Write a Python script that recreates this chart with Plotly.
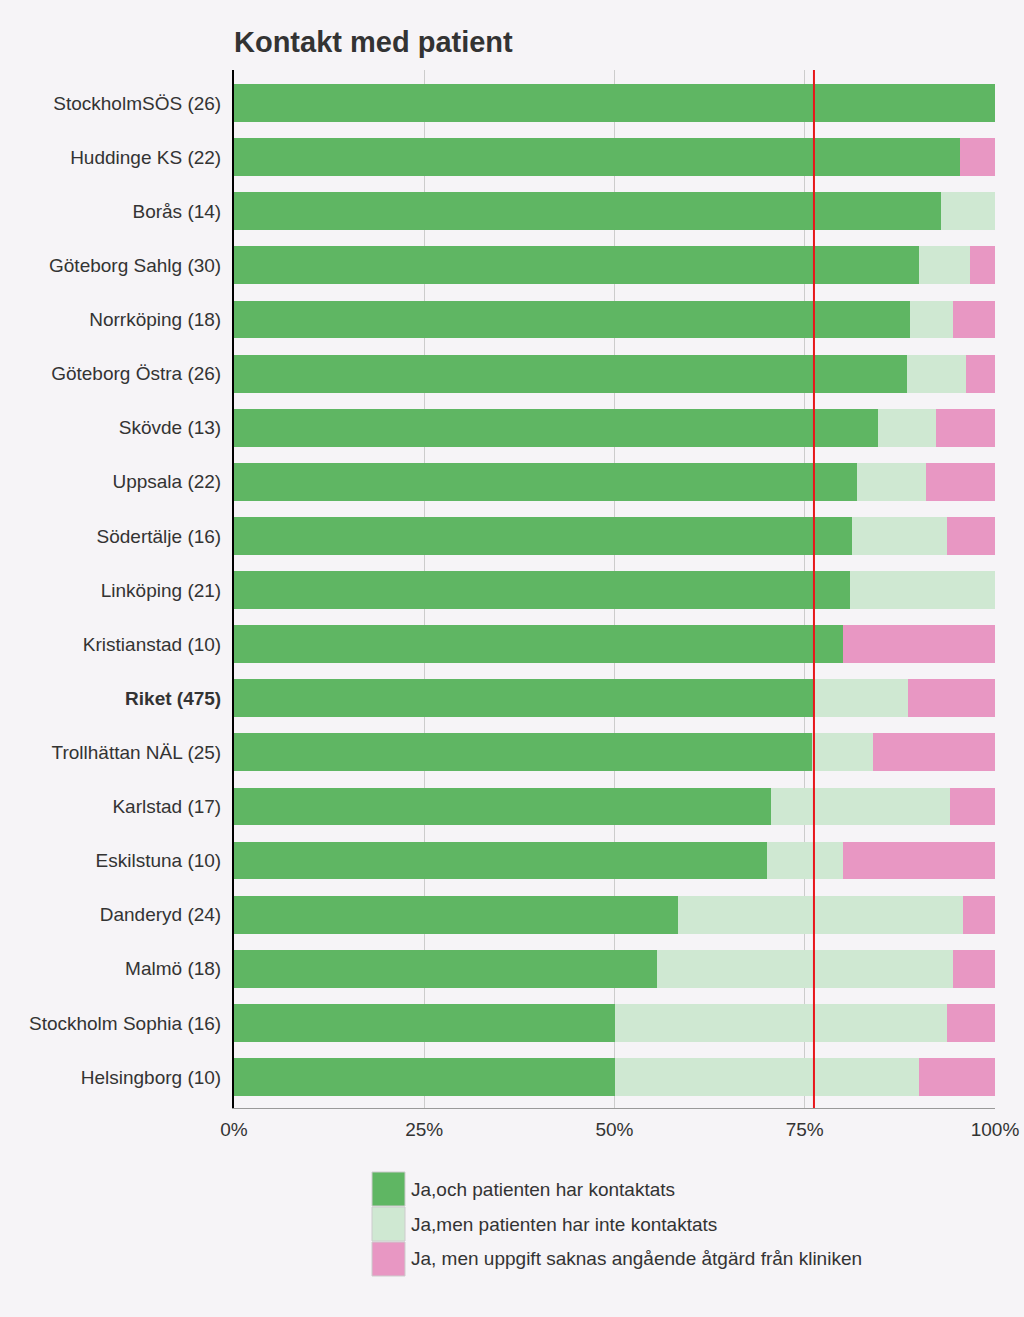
import plotly.graph_objects as go

categories = ["StockholmSÖS (26)", "Huddinge KS (22)", "Borås (14)", "Göteborg Sahlg (30)",
              "Norrköping (18)", "Göteborg Östra (26)", "Skövde (13)", "Uppsala (22)",
              "Södertälje (16)", "Linköping (21)", "Kristianstad (10)", "Riket (475)",
              "Trollhättan NÄL (25)", "Karlstad (17)", "Eskilstuna (10)", "Danderyd (24)",
              "Malmö (18)", "Stockholm Sophia (16)", "Helsingborg (10)"]
contacted = [100.0, 95.45, 92.86, 90.0, 88.89, 88.46, 84.62, 81.82, 81.25, 80.95, 80.0,
             76.21, 76.0, 70.59, 70.0, 58.33, 55.56, 50.0, 50.0]
not_contacted = [0.0, 0.0, 7.14, 6.67, 5.56, 7.69, 7.69, 9.09, 12.5, 19.05, 0.0,
                 12.42, 8.0, 23.53, 10.0, 37.5, 38.89, 43.75, 40.0]
missing = [0.0, 4.55, 0.0, 3.33, 5.56, 3.85, 7.69, 9.09, 6.25, 0.0, 20.0,
           11.37, 16.0, 5.88, 20.0, 4.17, 5.56, 6.25, 10.0]
series_names = ["Ja,och patienten har kontaktats", "Ja,men patienten har inte kontaktats",
                "Ja, men uppgift saknas angående åtgärd från kliniken"]
colors = ["#5fb663", "#cfe8d2", "#e897c3"]
reference_value = 76.21
x_ticks = [0, 25, 50, 75, 100]
x_tick_labels = ["0%", "25%", "50%", "75%", "100%"]

tick_text = ["<b>" + c + "</b>" if c.startswith("Riket") else c for c in categories]

fig = go.Figure()
for name, vals, col in zip(series_names, [contacted, not_contacted, missing], colors):
    fig.add_trace(go.Bar(y=categories, x=vals, name=name, orientation="h",
                         marker=dict(color=col, line=dict(width=0)),
                         showlegend=False, hoverinfo="x+y"))

W, H = 1024, 1317
L, R, T, B = 234, 995, 70, 1108  # plot area in pixels
pw, ph = R - L, B - T

bg = "#f6f4f7"
fig.update_layout(
    barmode="stack", bargap=0.3,
    width=W, height=H,
    paper_bgcolor=bg, plot_bgcolor=bg,
    margin=dict(l=L, r=W - R, t=T, b=H - B, autoexpand=False),
    font=dict(family="Liberation Sans, Arial, sans-serif", size=19, color="#333333"),
    title=dict(text="<b>Kontakt med patient</b>", x=L / W, xanchor="left",
               y=1 - 42 / H, yanchor="middle",
               font=dict(size=29, color="#333333")),
    xaxis=dict(range=[0, 100], tickvals=x_ticks, ticktext=x_tick_labels,
               showgrid=True, gridcolor="#cccccc", gridwidth=1, zeroline=False,
               showline=True, linecolor="#999999", linewidth=1, ticks="",
               ticklabelstandoff=4, automargin=False,
               tickfont=dict(size=19, color="#333333")),
    yaxis=dict(categoryorder="array", categoryarray=categories, range=[18.573, -0.61],
               tickvals=categories, ticktext=tick_text, ticks="", showgrid=False,
               showline=True, linecolor="#000000", linewidth=2, ticklabelstandoff=7,
               automargin=False,
               tickfont=dict(size=19, color="#333333")),
)

# reference line (Riket)
fig.add_shape(type="line", xref="x", yref="paper", x0=reference_value, x1=reference_value,
              y0=0, y1=1, line=dict(color="#e8161b", width=2))

# legend drawn manually with large swatches
lx0, lx1 = 372, 405
ly_tops = [1172, 1207, 1242]
for name, col, yt in zip(series_names, colors, ly_tops):
    fig.add_shape(type="rect", xref="paper", yref="paper",
                  x0=(lx0 - L) / pw, x1=(lx1 - L) / pw,
                  y0=(B - yt) / ph, y1=(B - yt - 34) / ph,
                  fillcolor=col, line=dict(color="#cccccc", width=1), layer="above")
    fig.add_annotation(xref="paper", yref="paper", x=(409 - L) / pw,
                       y=(B - yt - 17) / ph, text=name, showarrow=False,
                       xanchor="left", yanchor="middle",
                       font=dict(size=19, color="#333333"))

fig.write_html("out.html", config={"displayModeBar": False},
               post_script="document.body.style.margin='0px';")
